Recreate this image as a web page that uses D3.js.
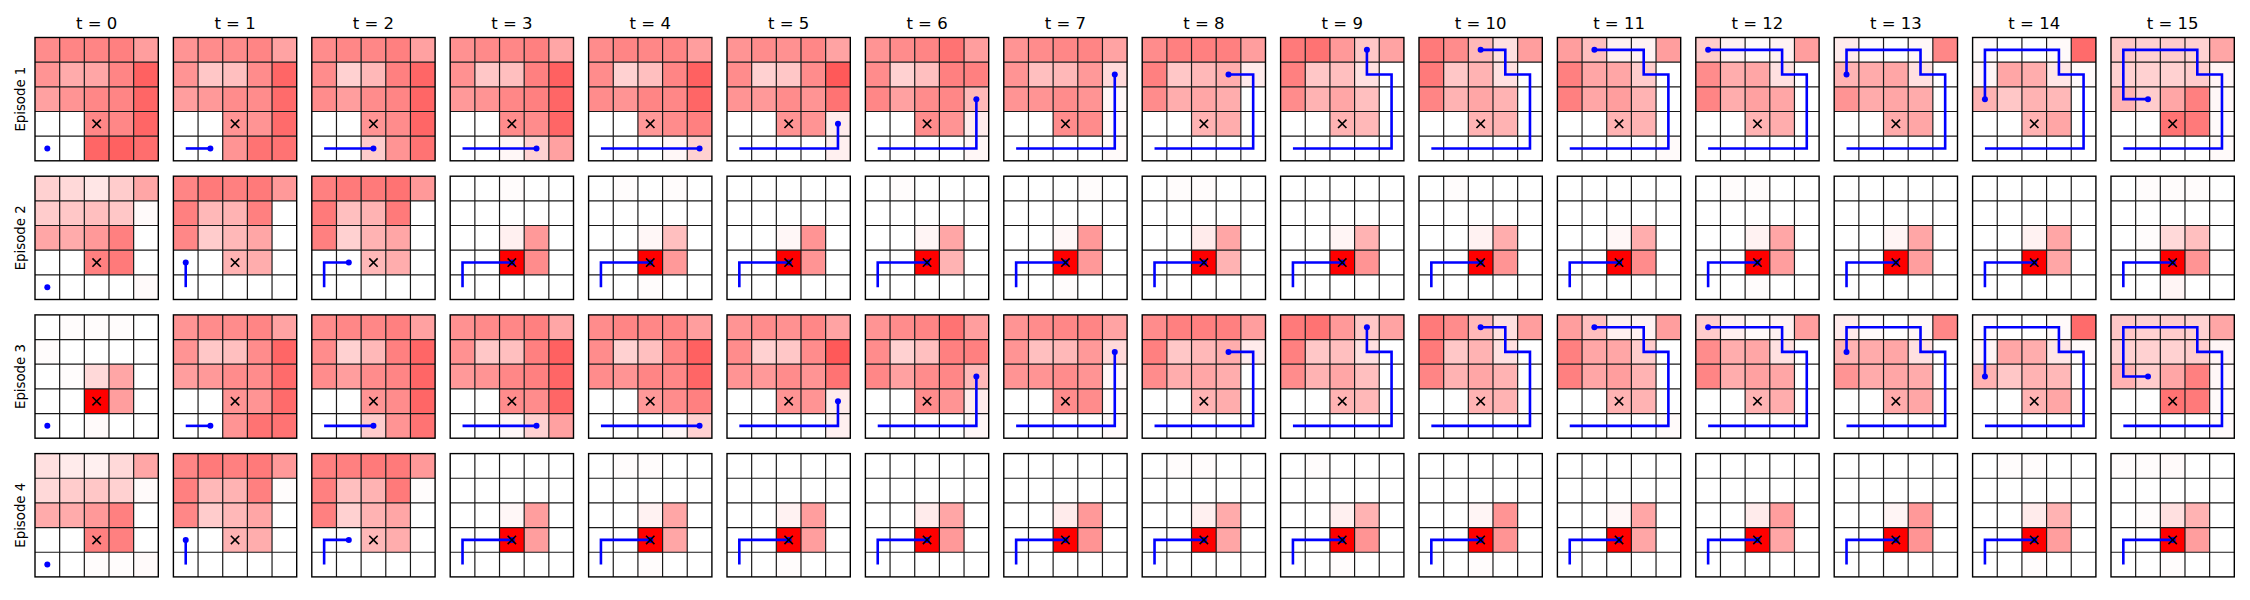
<!DOCTYPE html>
<html>
<head>
<meta charset="utf-8">
<script src="https://cdn.jsdelivr.net/npm/d3@7"></script>
<style>
  html, body { margin: 0; padding: 0; background: #fff; }
  svg { display: block; font-family: "DejaVu Sans", sans-serif; }
</style>
</head>
<body>
<script>
// ---------------- DATA ----------------
const timeSteps = d3.range(16);                 // t = 0 .. 15
const episodeLabels = ["Episode 1", "Episode 2", "Episode 3", "Episode 4"];
const gridSize = 5;
const goalCell = [3, 2];                          // [row, col] of the × marker

// Heat values (percent of full red) per time step, 5x5 row-major, top row first
const ep1Heat = [
  [45,48,48,50,38, 42,33,35,48,62, 37,42,47,48,60, 0,0,47,47,60, 0,0,60,62,57],
  [42,45,45,48,36, 42,22,25,45,60, 38,40,45,45,58, 0,0,42,42,58, 0,0,42,55,55],
  [45,47,47,50,37, 45,18,28,50,60, 45,38,45,48,60, 0,0,42,45,60, 0,0,20,42,55],
  [43,46,47,50,35, 43,22,25,50,62, 40,42,47,50,60, 0,0,45,45,60, 0,0,3,18,37],
  [45,48,47,48,38, 45,18,25,48,62, 45,42,48,47,60, 0,0,40,45,50, 0,0,0,3,18],
  [42,45,43,47,36, 45,18,22,45,65, 42,40,45,42,55, 0,0,42,42,8, 0,0,0,0,6],
  [42,45,48,55,38, 45,18,25,50,50, 47,37,45,47,28, 0,0,45,42,8, 0,0,0,0,3],
  [42,45,47,48,36, 42,25,28,40,15, 42,42,45,42,3, 0,0,45,45,2, 0,0,0,0,2],
  [45,50,50,50,38, 50,22,28,32,8, 45,32,35,32,0, 0,0,30,32,0, 0,0,0,0,0],
  [52,55,40,22,36, 50,22,25,12,0, 45,30,35,25,0, 0,0,30,28,0, 0,0,0,0,0],
  [52,45,28,12,38, 52,22,30,12,0, 48,30,35,30,0, 0,0,30,30,0, 0,0,0,0,0],
  [38,25,6,5,38, 50,35,35,20,0, 50,35,38,30,0, 0,0,30,30,0, 0,0,0,0,2],
  [20,6,2,5,38, 45,32,35,12,0, 48,32,37,35,0, 0,0,30,32,0, 0,0,0,0,0],
  [8,2,0,3,47, 30,33,35,12,0, 42,33,35,33,0, 0,0,33,35,0, 0,0,0,0,0],
  [2,0,0,2,58, 4,35,32,10,2, 30,22,30,28,0, 0,0,30,35,0, 0,0,0,0,0],
  [22,18,20,18,35, 18,18,18,20,4, 30,20,35,50,3, 0,0,55,52,2, 0,0,0,0,2]
];
const ep2Heat = [
  [18,15,10,20,35, 20,22,25,22,2, 35,33,40,50,0, 0,0,50,52,0, 0,0,0,0,2],
  [48,52,50,52,40, 50,28,30,50,0, 47,20,28,35,0, 0,0,30,32,0, 0,0,0,0,0],
  [50,52,52,55,40, 52,25,30,52,0, 50,18,30,35,0, 0,0,28,32,0, 0,0,0,0,0],
  [0,0,1,0,0, 0,0,0,0,0, 0,0,6,40,0, 0,0,100,45,0, 0,0,0,0,0],
  [0,1,0,1,0, 0,0,0,0,0, 0,0,3,25,0, 0,0,100,40,0, 0,0,1,0,0],
  [0,0,0,0,0, 0,0,0,0,0, 0,0,3,42,0, 0,0,100,42,0, 0,0,0,0,0],
  [0,1,0,0,0, 0,0,0,0,0, 0,0,4,35,0, 0,0,100,30,0, 0,0,0,0,0],
  [0,0,0,1,0, 0,0,0,0,0, 0,0,3,40,0, 0,0,100,40,0, 0,0,1,0,0],
  [0,1,1,0,0, 0,0,0,0,0, 0,0,8,35,0, 0,0,100,30,0, 0,0,0,0,0],
  [0,0,0,0,0, 0,0,0,0,0, 0,0,4,30,0, 0,0,100,42,0, 0,0,0,0,0],
  [0,1,0,0,0, 0,0,0,0,0, 0,0,5,32,0, 0,0,100,42,0, 0,0,0,0,0],
  [0,0,0,0,0, 0,0,0,0,0, 0,0,3,32,0, 0,0,100,45,0, 0,0,0,0,0],
  [0,1,1,0,0, 0,0,0,0,0, 0,0,5,35,0, 0,0,100,38,0, 0,0,1,0,0],
  [0,0,0,0,0, 0,0,0,0,0, 0,0,4,35,0, 0,0,100,38,0, 0,0,0,0,0],
  [0,0,0,0,0, 0,0,0,0,0, 0,0,5,35,0, 0,0,100,35,0, 0,0,0,0,0],
  [0,1,1,1,0, 0,0,0,0,0, 0,1,15,25,0, 0,0,100,42,0, 0,0,4,0,0]
];
const ep3Heat = [
  [0,1,1,1,0, 1,0,0,0,0, 0,1,15,35,0, 0,0,100,38,0, 0,0,2,0,0],
  [42,45,45,48,36, 42,22,25,45,60, 38,40,45,45,58, 0,0,42,42,58, 0,0,42,55,55],
  [45,47,47,50,37, 45,18,28,50,60, 45,38,45,48,60, 0,0,42,45,60, 0,0,20,42,55],
  [43,46,47,50,35, 43,22,25,50,62, 40,42,47,50,60, 0,0,45,45,60, 0,0,3,18,37],
  [45,48,47,48,38, 45,18,25,48,62, 45,42,48,47,60, 0,0,40,45,50, 0,0,0,3,18],
  [42,45,43,47,36, 45,18,22,45,65, 42,40,45,42,55, 0,0,42,42,8, 0,0,0,0,6],
  [42,45,48,55,38, 45,18,25,50,50, 47,37,45,47,28, 0,0,45,42,8, 0,0,0,0,3],
  [42,45,47,48,36, 42,25,28,40,15, 42,42,45,42,3, 0,0,45,45,2, 0,0,0,0,2],
  [45,50,50,50,38, 50,22,28,32,8, 45,32,35,32,0, 0,0,30,32,0, 0,0,0,0,0],
  [52,55,40,22,36, 50,22,25,12,0, 45,30,35,25,0, 0,0,30,28,0, 0,0,0,0,0],
  [52,45,28,12,38, 52,22,30,12,0, 48,30,35,30,0, 0,0,30,30,0, 0,0,0,0,0],
  [38,25,6,5,38, 50,35,35,20,0, 50,35,38,30,0, 0,0,30,30,0, 0,0,0,0,2],
  [20,6,2,5,38, 45,32,35,12,0, 48,32,37,35,0, 0,0,30,32,0, 0,0,0,0,0],
  [8,2,0,3,47, 30,33,35,12,0, 42,33,35,33,0, 0,0,33,35,0, 0,0,0,0,0],
  [2,0,0,2,58, 4,35,32,10,2, 30,22,30,28,0, 0,0,30,35,0, 0,0,0,0,0],
  [22,18,20,18,35, 18,18,18,20,4, 30,20,35,50,3, 0,0,55,52,2, 0,0,0,0,2]
];
const ep4Heat = [
  [12,8,6,15,35, 15,20,22,18,2, 33,33,40,50,0, 0,0,50,50,0, 0,0,1,1,2],
  [48,52,50,52,40, 50,28,30,50,1, 47,20,28,35,0, 0,0,30,32,0, 0,0,0,0,0],
  [50,50,52,52,40, 50,25,30,52,1, 50,18,30,35,0, 0,0,28,32,0, 0,0,0,0,0],
  [0,0,0,0,0, 0,0,0,0,0, 0,0,3,38,0, 0,0,100,38,0, 0,0,0,0,0],
  [0,1,1,0,0, 0,0,0,0,0, 0,0,5,35,0, 0,0,100,35,0, 0,0,1,0,0],
  [0,0,0,0,0, 0,0,0,0,0, 0,0,5,38,0, 0,0,100,38,0, 0,0,1,0,0],
  [0,0,0,0,0, 0,0,0,0,0, 0,0,8,35,0, 0,0,100,40,0, 0,0,0,0,0],
  [0,0,0,0,0, 0,0,0,0,0, 0,0,8,40,0, 0,0,100,42,0, 0,0,0,0,0],
  [0,1,1,0,0, 0,0,0,0,0, 0,0,6,33,0, 0,0,100,35,0, 0,0,0,0,0],
  [0,1,0,0,0, 0,0,0,0,0, 0,0,6,30,0, 0,0,100,42,0, 0,0,1,0,0],
  [0,0,0,0,0, 0,0,0,0,0, 0,0,4,42,0, 0,0,100,42,0, 0,0,1,0,0],
  [0,0,0,0,0, 0,0,0,0,0, 0,0,3,35,0, 0,0,100,35,0, 0,0,0,0,0],
  [0,0,0,0,0, 0,0,0,0,0, 0,0,8,38,0, 0,0,100,35,0, 0,0,0,0,0],
  [0,0,0,0,0, 0,0,0,0,0, 0,0,4,40,0, 0,0,100,42,0, 0,0,0,0,0],
  [0,1,1,0,0, 0,0,0,0,0, 0,0,8,30,0, 0,0,100,38,0, 0,0,1,0,0],
  [1,1,2,0,0, 0,0,0,0,0, 0,1,12,30,0, 0,0,100,38,0, 0,0,1,0,0]
];

// Agent positions [row, col] at each time step
const ep1Path = [[4,0],[4,1],[4,2],[4,3],[4,4],[3,4],[2,4],[1,4],[1,3],[0,3],[0,2],[0,1],[0,0],[1,0],[2,0],[2,1]];
const ep2Path = [[4,0],[3,0],[3,1],[3,2],[3,2],[3,2],[3,2],[3,2],[3,2],[3,2],[3,2],[3,2],[3,2],[3,2],[3,2],[3,2]];
const ep3Path = [[4,0],[4,1],[4,2],[4,3],[4,4],[3,4],[2,4],[1,4],[1,3],[0,3],[0,2],[0,1],[0,0],[1,0],[2,0],[2,1]];
const ep4Path = [[4,0],[3,0],[3,1],[3,2],[3,2],[3,2],[3,2],[3,2],[3,2],[3,2],[3,2],[3,2],[3,2],[3,2],[3,2],[3,2]];

const episodeHeat = [ep1Heat, ep2Heat, ep3Heat, ep4Heat];
const episodePath = [ep1Path, ep2Path, ep3Path, ep4Path];

// ---------------- LAYOUT ----------------
const W = 2250, H = 600;
const panelSize = 123.3;
const colX = d3.scaleLinear().domain([0, 15]).range([35, 35 + 15 * 138.4]);
const rowY = d3.scaleLinear().domain([0, 3]).range([37.5, 37.5 + 3 * 138.7]);
const cell = d3.scaleBand().domain(d3.range(gridSize)).range([0, panelSize]);
const heatColor = d3.scaleLinear().domain([0, 100]).range(["#ffffff", "#ff0000"]).interpolate(d3.interpolateRgb).clamp(true);
const ctr = i => cell(i) + cell.bandwidth() / 2;

const svg = d3.select("body").append("svg").attr("width", W).attr("height", H);
svg.append("rect").attr("width", W).attr("height", H).attr("fill", "#fff");

episodeLabels.forEach((lab, e) => {
  // row label
  svg.append("text")
    .attr("transform", `translate(24.5,${rowY(e) + panelSize / 2}) rotate(-90)`)
    .attr("text-anchor", "middle")
    .attr("font-size", "13.3px")
    .attr("fill", "#000")
    .text(lab);

  timeSteps.forEach(t => {
    const g = svg.append("g").attr("transform", `translate(${colX(t)},${rowY(e)})`);
    const vals = episodeHeat[e][t];
    const cells = vals.map((v, i) => ({ r: Math.floor(i / gridSize), c: i % gridSize, v }));

    g.selectAll("rect.cell").data(cells).join("rect")
      .attr("class", "cell")
      .attr("x", d => cell(d.c))
      .attr("y", d => cell(d.r))
      .attr("width", cell.bandwidth())
      .attr("height", cell.bandwidth())
      .attr("fill", d => heatColor(d.v));

    // grid lines
    const lines = d3.range(1, gridSize);
    g.selectAll("line.v").data(lines).join("line")
      .attr("x1", d => cell(d)).attr("x2", d => cell(d))
      .attr("y1", 0).attr("y2", panelSize)
      .attr("stroke", "#1a1a1a").attr("stroke-width", 1.2);
    g.selectAll("line.h").data(lines).join("line")
      .attr("y1", d => cell(d)).attr("y2", d => cell(d))
      .attr("x1", 0).attr("x2", panelSize)
      .attr("stroke", "#1a1a1a").attr("stroke-width", 1.2);
    g.append("rect")
      .attr("width", panelSize).attr("height", panelSize)
      .attr("fill", "none").attr("stroke", "#000").attr("stroke-width", 1.4);

    // path so far
    const pts = episodePath[e].slice(0, t + 1);
    const line = d3.line().x(d => ctr(d[1])).y(d => ctr(d[0]));
    if (pts.length > 1) {
      g.append("path").attr("d", line(pts))
        .attr("fill", "none").attr("stroke", "#0000ff").attr("stroke-width", 2.6)
        .attr("stroke-linejoin", "miter");
    }
    const last = pts[pts.length - 1];
    g.append("circle").attr("cx", ctr(last[1])).attr("cy", ctr(last[0])).attr("r", 3)
      .attr("fill", "#0000ff");

    // goal marker ×
    const gx = ctr(goalCell[1]), gy = ctr(goalCell[0]), s = 4.2;
    g.append("path")
      .attr("d", `M${gx - s},${gy - s}L${gx + s},${gy + s}M${gx - s},${gy + s}L${gx + s},${gy - s}`)
      .attr("stroke", "#000").attr("stroke-width", 1.6).attr("fill", "none");

    // title
    if (e === 0) {
      svg.append("text")
        .attr("x", colX(t) + panelSize / 2)
        .attr("y", rowY(0) - 9)
        .attr("text-anchor", "middle")
        .attr("font-size", "16.5px")
        .attr("fill", "#000")
        .text(`t = ${t}`);
    }
  });
});
</script>
</body>
</html>
